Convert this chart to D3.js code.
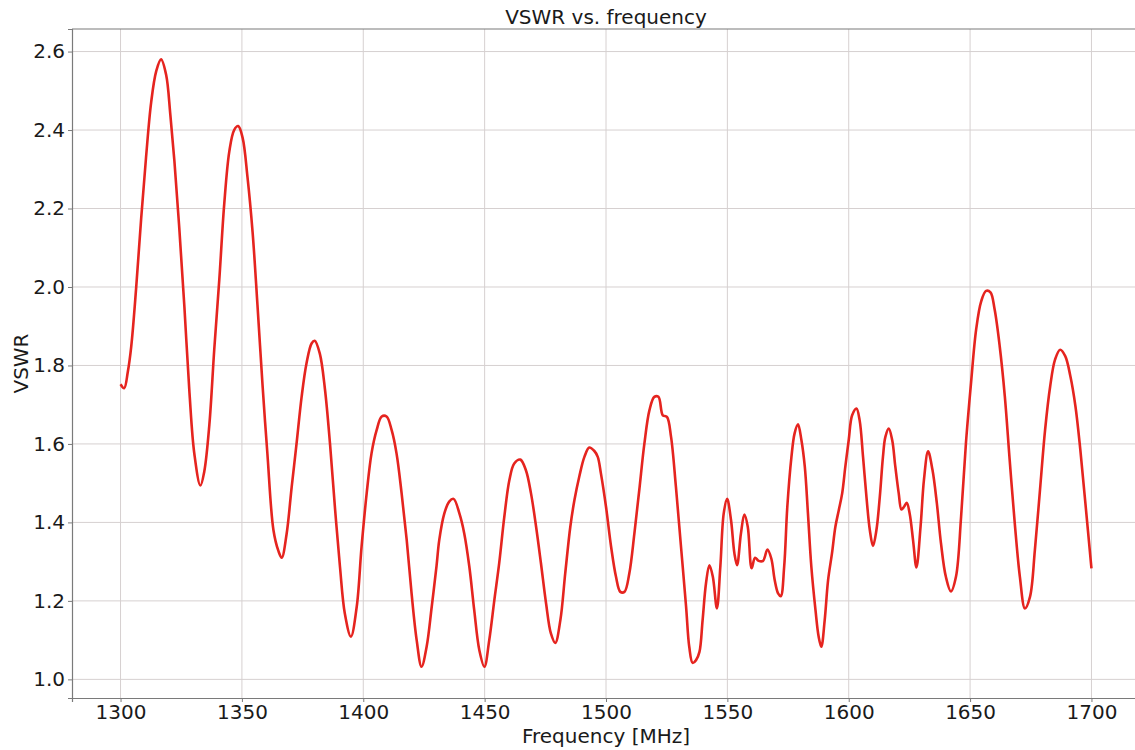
<!DOCTYPE html>
<html>
<head>
<meta charset="utf-8">
<script src="https://cdn.jsdelivr.net/npm/d3@7"></script>
<style>
  body { margin: 0; background: #fff; }
  svg { display: block; font-family: "DejaVu Sans", sans-serif; }
</style>
</head>
<body>
<svg id="chart"></svg>
<script>
// values
const freq = [
  1300, 1301.5, 1303, 1304.4, 1306.4, 1308.5, 1310.5, 1312.6, 1314.7, 1316.7,
  1318.8, 1320.5, 1322.2, 1324.2, 1326.3, 1328.4, 1330.4, 1332.9, 1334.5, 1336.6,
  1338.6, 1340.7, 1342.7, 1344.8, 1346.8, 1348.5, 1350.3, 1352.3, 1354.4, 1356.4,
  1358.5, 1360.5, 1363, 1365, 1366.4, 1368.4, 1370.5, 1372.5, 1374.6, 1376.6,
  1378.7, 1380, 1382.1, 1384.2, 1386.3, 1388.3, 1390.4, 1392.4, 1394.9, 1397.3,
  1399.3, 1401.4, 1403.4, 1405.5, 1407.6, 1409.6, 1411.7, 1413.7, 1415.8, 1417.9,
  1419.9, 1422, 1424, 1426.1, 1428.2, 1430.2, 1431.3, 1433.4, 1435.4, 1437.2,
  1439.6, 1441.6, 1443.7, 1445.7, 1447.8, 1449.9, 1451.9, 1454, 1456, 1458.1,
  1460.2, 1462.2, 1464.7, 1467, 1469.1, 1471.2, 1473.2, 1475.3, 1477.3, 1479.1,
  1481.2, 1483.2, 1485.3, 1487, 1489, 1491.1, 1493.1, 1495.2, 1496.6, 1497.9,
  1500, 1502.1, 1504.1, 1505.9, 1507.6, 1509.6, 1511.7, 1513.7, 1515.8, 1517.9,
  1519.9, 1521.6, 1523.4, 1525.1, 1526.8, 1528.8, 1530.9, 1533, 1534.3, 1535.7,
  1537.1, 1538.5, 1539.8, 1541.2, 1542.6, 1544, 1545.7, 1547.1, 1548.5, 1549.9,
  1551.5, 1552.9, 1554, 1555.6, 1557, 1558.4, 1560, 1561.4, 1562.9, 1564.7,
  1566.5, 1568.1, 1569.5, 1570.9, 1572, 1573.4, 1574.7, 1576.4, 1577.7, 1579.1,
  1580.5, 1581.9, 1583.2, 1584.6, 1586.3, 1587.6, 1588.7, 1590.1, 1591.5, 1593.1,
  1594.5, 1595.9, 1597.3, 1598.6, 1600, 1601.4, 1603.2, 1604.5, 1605.9, 1607.3,
  1608.7, 1610, 1611.4, 1612.8, 1614.1, 1615.1, 1616.5, 1617.9, 1619.2, 1620.6,
  1621.7, 1622.8, 1623.9, 1625.1, 1626.5, 1627.9, 1629.6, 1631, 1632.7, 1634.5,
  1636.3, 1638, 1640, 1642.1, 1644.2, 1646.3, 1648.3, 1650.4, 1652.5, 1654.6,
  1656.6, 1658.4, 1660.1, 1662.2, 1664.3, 1666.3, 1668.4, 1670.5, 1672.6, 1674.7,
  1676.7, 1678.8, 1680.9, 1683, 1685, 1687.1, 1689.2, 1691.3, 1693.4, 1695.4,
  1697.5, 1700
];
const vswr = [
  1.752, 1.742, 1.784, 1.848, 1.995, 2.175, 2.33, 2.47, 2.55, 2.58,
  2.54, 2.44, 2.32, 2.15, 1.95, 1.73, 1.575, 1.494, 1.53, 1.65,
  1.84, 2.02, 2.21, 2.345, 2.40, 2.41, 2.38, 2.28, 2.14, 1.955,
  1.75, 1.575, 1.38, 1.328, 1.31, 1.37, 1.49, 1.60, 1.72, 1.805,
  1.856, 1.863, 1.83, 1.74, 1.60, 1.44, 1.287, 1.168, 1.109, 1.185,
  1.338, 1.474, 1.576, 1.635, 1.67, 1.67, 1.635, 1.576, 1.474, 1.355,
  1.219, 1.10, 1.032, 1.083, 1.185, 1.29, 1.355, 1.423, 1.453, 1.46,
  1.423, 1.372, 1.287, 1.177, 1.075, 1.032, 1.10, 1.202, 1.296, 1.414,
  1.508, 1.55, 1.56, 1.533, 1.474, 1.389, 1.296, 1.194, 1.117, 1.093,
  1.151, 1.27, 1.389, 1.457, 1.517, 1.567, 1.591, 1.582, 1.567, 1.525,
  1.44, 1.338, 1.262, 1.223, 1.223, 1.27, 1.372, 1.482, 1.60, 1.686,
  1.72, 1.72, 1.673, 1.669, 1.618, 1.491, 1.338, 1.185, 1.083, 1.042,
  1.049, 1.07, 1.151, 1.245, 1.291, 1.262, 1.181, 1.287, 1.423, 1.46,
  1.406, 1.321, 1.291, 1.372, 1.42, 1.389, 1.283, 1.31, 1.302, 1.302,
  1.331, 1.308, 1.253, 1.219, 1.212, 1.287, 1.44, 1.567, 1.627, 1.65,
  1.61, 1.542, 1.423, 1.287, 1.177, 1.109, 1.083, 1.151, 1.253, 1.321,
  1.389, 1.431, 1.474, 1.542, 1.61, 1.673, 1.69, 1.66, 1.567, 1.465,
  1.38, 1.34, 1.38, 1.465, 1.567, 1.618, 1.639, 1.61, 1.542, 1.474,
  1.433, 1.44, 1.45, 1.423, 1.355, 1.285, 1.39, 1.509, 1.581, 1.534,
  1.449, 1.347, 1.262, 1.224, 1.262, 1.415, 1.603, 1.756, 1.892, 1.964,
  1.99, 1.986, 1.943, 1.849, 1.722, 1.56, 1.398, 1.262, 1.181, 1.211,
  1.33, 1.483, 1.636, 1.747, 1.815, 1.84, 1.824, 1.773, 1.696, 1.586,
  1.449, 1.283
];
const xTicks = [1300, 1350, 1400, 1450, 1500, 1550, 1600, 1650, 1700];
const yTicks = [1.0, 1.2, 1.4, 1.6, 1.8, 2.0, 2.2, 2.4, 2.6];

const width = 1135;
const height = 750;
const margin = { top: 29, right: -5, bottom: 52, left: 72 };

const svg = d3.select('#chart')
  .attr('width', width)
  .attr('height', height);

const x = d3.scaleLinear()
  .domain([1280, 1720])
  .range([margin.left, width - margin.right]);

const y = d3.scaleLinear()
  .domain([0.9525, 2.6575])
  .range([height - margin.bottom, margin.top]);

// grid
svg.append('g')
  .selectAll('line')
  .data(xTicks)
  .join('line')
  .attr('x1', d => x(d)).attr('x2', d => x(d))
  .attr('y1', margin.top).attr('y2', height - margin.bottom)
  .attr('stroke', '#d6d0d0')
  .attr('stroke-width', 1);

svg.append('g')
  .selectAll('line')
  .data(yTicks)
  .join('line')
  .attr('x1', margin.left).attr('x2', width - margin.right)
  .attr('y1', d => y(d)).attr('y2', d => y(d))
  .attr('stroke', '#d6d0d0')
  .attr('stroke-width', 1);

// axes
const xAxis = svg.append('g')
  .attr('transform', `translate(0,${height - margin.bottom})`)
  .call(d3.axisBottom(x).tickValues(xTicks).tickFormat(d3.format('d')).tickSizeOuter(0).tickSize(4).tickPadding(3));

const yAxis = svg.append('g')
  .attr('transform', `translate(${margin.left},0)`)
  .call(d3.axisLeft(y).tickValues(yTicks).tickFormat(d3.format('.1f')).tickSizeOuter(0).tickSize(4).tickPadding(3));

[xAxis, yAxis].forEach(g => {
  g.select('.domain').attr('stroke', '#7a7a7a').attr('stroke-width', 1.2);
  g.selectAll('.tick line').attr('stroke', '#7a7a7a');
  g.selectAll('.tick text')
    .attr('fill', '#1a1a1a')
    .attr('font-size', '20px')
    .attr('font-family', '"DejaVu Sans", sans-serif');
});

// top spine
svg.append('line')
  .attr('x1', margin.left).attr('x2', width)
  .attr('y1', margin.top).attr('y2', margin.top)
  .attr('stroke', '#7a7a7a')
  .attr('stroke-width', 1.2);

// curve
const line = d3.line()
  .x((d, i) => x(freq[i]))
  .y(d => y(d))
  .curve(d3.curveCatmullRom.alpha(0.5));

svg.append('path')
  .datum(vswr)
  .attr('fill', 'none')
  .attr('stroke', '#e5241f')
  .attr('stroke-width', 2.6)
  .attr('stroke-linejoin', 'round')
  .attr('d', line);

// labels
svg.append('text')
  .attr('x', (margin.left + width - margin.right) / 2)
  .attr('y', 24)
  .attr('text-anchor', 'middle')
  .attr('font-size', '20px')
  .attr('fill', '#1a1a1a')
  .text('VSWR vs. frequency');

svg.append('text')
  .attr('x', (margin.left + width - margin.right) / 2)
  .attr('y', 743)
  .attr('text-anchor', 'middle')
  .attr('font-size', '20px')
  .attr('fill', '#1a1a1a')
  .text('Frequency [MHz]');

svg.append('text')
  .attr('transform', `translate(28,${(margin.top + height - margin.bottom) / 2}) rotate(-90)`)
  .attr('text-anchor', 'middle')
  .attr('font-size', '20px')
  .attr('fill', '#1a1a1a')
  .text('VSWR');
</script>
</body>
</html>
